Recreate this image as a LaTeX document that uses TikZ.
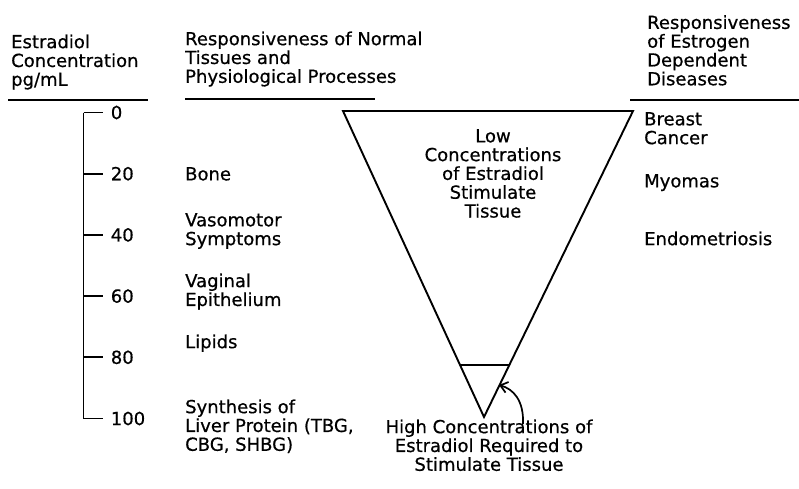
\documentclass[tikz,border=0pt]{standalone}
\usepackage{fontspec}
\setmainfont{DejaVu Sans}[FakeBold=0.6]
\usetikzlibrary{arrows.meta,calc}

\begin{document}
\begin{tikzpicture}
        [x=1pt,y=-1pt,font=\fontsize{18}{18.8}\selectfont,
         lbl/.style={anchor=north west,inner sep=0pt,align=left},
         ctr/.style={anchor=north,inner sep=0pt,align=center},
         rule/.style={line width=1.8pt},
         edge/.style={line width=1.9pt,line join=miter},
         tick/.style={line width=1.7pt}]

        \useasboundingbox (0,0) rectangle (799,488);

        % headings
        \node[lbl] (conc) at (11,34.3) {Estradiol\\Concentration\\pg/mL};
        \node[lbl] (normal) at (185,31.3) {Responsiveness of Normal\\Tissues and\\Physiological Processes};
        \node[lbl] (disease) at (647,15) {Responsiveness\\of Estrogen\\Dependent\\Diseases};

        \draw[rule] (8,100) -- (148,100);
        \draw[rule] (185,99) -- (375,99);
        \draw[rule] (630,100) -- (799,100);

        % scale
        \draw[tick] (83.5,112.5) -- (83.5,418.5);
        \foreach \v [count=\i from 0] in {0,20,40,60,80,100}
            \draw[tick] (83.5,{112.5+61.2*\i}) -- (103,{112.5+61.2*\i})
                node[anchor=west,inner sep=0pt,xshift=7pt] (c\v) {\v};

        % normal tissues
        \node[lbl] (bone) at (185,167) {Bone};
        \node[lbl] (vaso) at (185,213) {Vasomotor\\Symptoms};
        \node[lbl] (vag) at (185,273.3) {Vaginal\\Epithelium};
        \node[lbl] (lip) at (185,334.3) {Lipids};
        \node[lbl] (liver) at (185,399.3) {Synthesis of\\Liver Protein (TBG,\\CBG, SHBG)};

        % diseases
        \node[lbl] (breast) at (644,112) {Breast\\Cancer};
        \node[lbl] (myoma) at (644,174) {Myomas};
        \node[lbl] (endo) at (644,231.3) {Endometriosis};

        % triangle
        \coordinate (tl) at (343,111);
        \coordinate (tr) at (633,111);
        \coordinate (apex) at (484,417);
        \draw[edge] (tl) -- (tr) -- (apex) -- cycle;
        \draw[tick] ($(tl)!0.83!(apex)$) -- ($(tr)!0.83!(apex)$);

        \node[ctr] (low) at (493,129) {Low\\Concentrations\\of Estradiol\\Stimulate\\Tissue};
        \node[ctr] (high) at (489,419.3) {High Concentrations of\\Estradiol Required to\\Stimulate Tissue};

        \coordinate (tail) at (523,424);
        \coordinate (tip) at (499,385);
        \draw[tick,-{Straight Barb[length=7pt,width=11pt]}] (tail) .. controls (524,400) and (513,389) .. (tip);
\end{tikzpicture}
\end{document}
